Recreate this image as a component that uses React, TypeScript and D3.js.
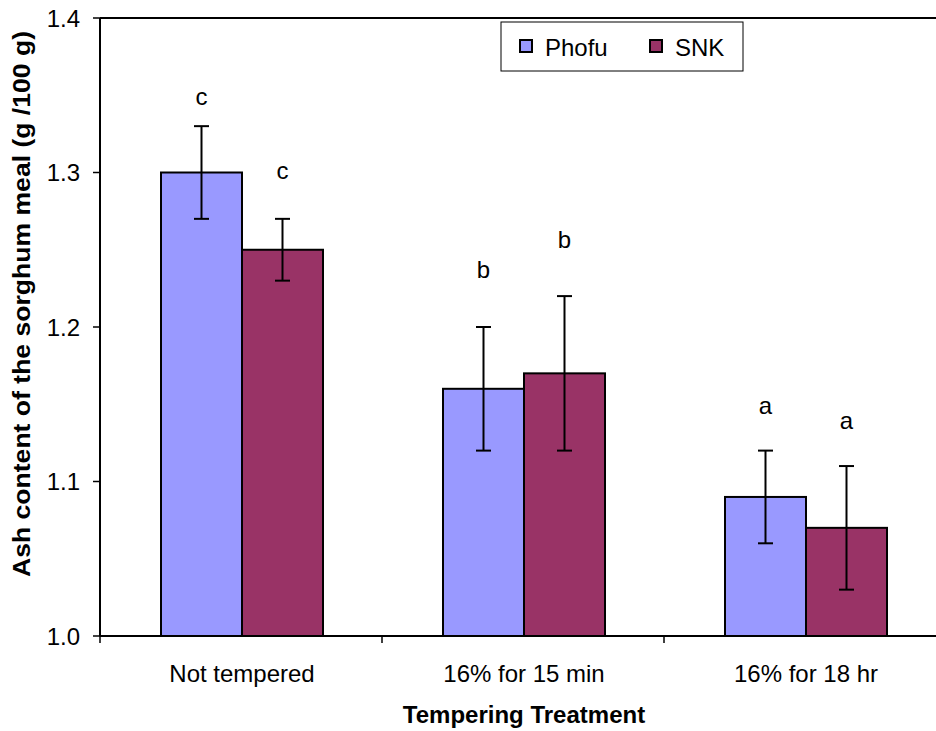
import { useEffect, useRef } from 'react';
import * as d3 from 'd3';

const categories = ['Not tempered', '16% for 15 min', '16% for 18 hr'];
const seriesNames = ['Phofu', 'SNK'];
const colors = ['#9999FF', '#993366'];
const phofuValues = [1.30, 1.16, 1.09];
const snkValues = [1.25, 1.17, 1.07];
const phofuErrors = [0.03, 0.04, 0.03];
const snkErrors = [0.02, 0.05, 0.04];
const phofuLetters = ['c', 'b', 'a'];
const snkLetters = ['c', 'b', 'a'];
// letter baselines in data units
const phofuLetterY = [1.344, 1.232, 1.144];
const snkLetterY = [1.296, 1.251, 1.134];
const yTicks = [1.0, 1.1, 1.2, 1.3, 1.4];

export default function App() {
  const svgRef = useRef<SVGSVGElement>(null);

  useEffect(() => {
    const width = 936;
    const height = 731;
    const svg = d3.select(svgRef.current);
    svg.selectAll('*').remove();

    const left = 100, top = 18, bottom = 636;
    const font = "'Liberation Sans', Arial, sans-serif";

    const x = d3.scaleBand().domain(categories).range([left, left + 282 * 3]);
    const y = d3.scaleLinear().domain([1.0, 1.4]).range([bottom, top]);
    const barW = 81;

    const series = [
      { name: seriesNames[0], values: phofuValues, errors: phofuErrors, letters: phofuLetters, letterY: phofuLetterY, color: colors[0] },
      { name: seriesNames[1], values: snkValues, errors: snkErrors, letters: snkLetters, letterY: snkLetterY, color: colors[1] },
    ];

    const g = svg.append('g');

    // bars
    series.forEach((s, si) => {
      categories.forEach((c, i) => {
        const cx = x(c)! + x.bandwidth() / 2 + 1;
        const x0 = cx - barW + si * barW;
        g.append('rect')
          .attr('x', x0)
          .attr('y', y(s.values[i]))
          .attr('width', barW)
          .attr('height', bottom - y(s.values[i]))
          .attr('fill', s.color)
          .attr('stroke', '#000')
          .attr('stroke-width', 2);
      });
    });

    // error bars and letters
    series.forEach((s, si) => {
      categories.forEach((c, i) => {
        const cx = x(c)! + x.bandwidth() / 2 + 1;
        const mx = cx - barW / 2 + si * barW;
        const hi = y(s.values[i] + s.errors[i]);
        const lo = y(s.values[i] - s.errors[i]);
        g.append('line').attr('x1', mx).attr('x2', mx).attr('y1', hi).attr('y2', lo)
          .attr('stroke', '#000').attr('stroke-width', 2);
        [hi, lo].forEach(yy => {
          g.append('line').attr('x1', mx - 7.5).attr('x2', mx + 7.5).attr('y1', yy).attr('y2', yy)
            .attr('stroke', '#000').attr('stroke-width', 2);
        });
        g.append('text')
          .attr('x', mx)
          .attr('y', y(s.letterY[i]))
          .attr('text-anchor', 'middle')
          .attr('font-family', font)
          .attr('font-size', 24)
          .text(s.letters[i]);
      });
    });

    // axes frame
    g.append('line').attr('x1', left).attr('x2', width).attr('y1', top).attr('y2', top)
      .attr('stroke', '#000').attr('stroke-width', 2);
    g.append('line').attr('x1', left).attr('x2', left).attr('y1', top).attr('y2', bottom)
      .attr('stroke', '#000').attr('stroke-width', 2);
    g.append('line').attr('x1', left).attr('x2', width).attr('y1', bottom).attr('y2', bottom)
      .attr('stroke', '#000').attr('stroke-width', 2);

    // y ticks
    yTicks.forEach(t => {
      g.append('line').attr('x1', left - 7).attr('x2', left).attr('y1', y(t)).attr('y2', y(t))
        .attr('stroke', '#000').attr('stroke-width', 1.5);
      g.append('text')
        .attr('x', 80)
        .attr('y', y(t) + 8.5)
        .attr('text-anchor', 'end')
        .attr('font-family', font)
        .attr('font-size', 24)
        .text(d3.format('.1f')(t));
    });

    // x ticks
    const xTickPos = categories.map(c => x(c)!).concat([x(categories[2])! + x.bandwidth()]);
    xTickPos.forEach(px => {
      g.append('line').attr('x1', px).attr('x2', px).attr('y1', bottom).attr('y2', bottom + 7)
        .attr('stroke', '#000').attr('stroke-width', 1.5);
    });
    categories.forEach(c => {
      g.append('text')
        .attr('x', x(c)! + x.bandwidth() / 2 + 1)
        .attr('y', 682)
        .attr('text-anchor', 'middle')
        .attr('font-family', font)
        .attr('font-size', 24)
        .text(c);
    });

    // axis titles
    g.append('text')
      .attr('x', 524)
      .attr('y', 723)
      .attr('text-anchor', 'middle')
      .attr('font-family', font)
      .attr('font-size', 24)
      .attr('font-weight', 'bold')
      .text('Tempering Treatment');
    g.append('text')
      .attr('transform', `translate(30, 304) rotate(-90)`)
      .attr('text-anchor', 'middle')
      .attr('font-family', font)
      .attr('font-size', 23)
      .attr('font-weight', 'bold')
      .attr('textLength', 546)
      .attr('lengthAdjust', 'spacingAndGlyphs')
      .text('Ash content of the sorghum meal (g /100 g)');

    // legend
    const legend = g.append('g');
    legend.append('rect').attr('x', 501).attr('y', 22).attr('width', 242).attr('height', 49)
      .attr('fill', '#fff').attr('stroke', '#000').attr('stroke-width', 1);
    const legendX = [520, 650];
    series.forEach((s, si) => {
      legend.append('rect').attr('x', legendX[si]).attr('y', 40).attr('width', 12).attr('height', 12)
        .attr('fill', s.color).attr('stroke', '#000').attr('stroke-width', 2);
      legend.append('text')
        .attr('x', legendX[si] + 25)
        .attr('y', 55.5)
        .attr('font-family', font)
        .attr('font-size', 24)
        .text(s.name);
    });

    svg.attr('width', width).attr('height', height);
  }, []);

  return (
    <div style={{ position: 'absolute', left: 0, top: 0 }}>
      <svg ref={svgRef} width={936} height={731} style={{ display: 'block', background: '#fff' }} />
    </div>
  );
}
